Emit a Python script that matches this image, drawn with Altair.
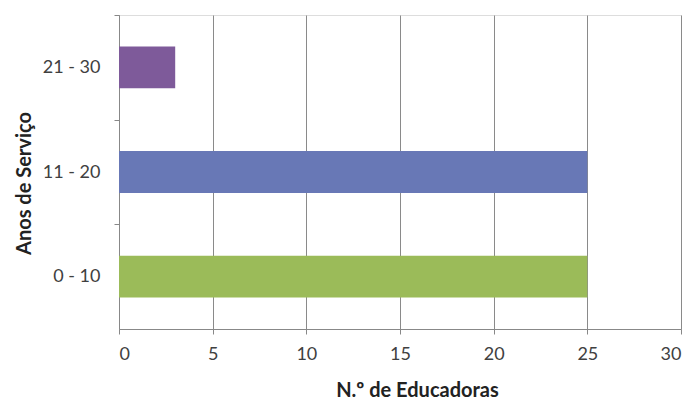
import altair as alt
import pandas as pd

categories = ["21 - 30", "11 - 20", "0 - 10"]
values = [3, 25, 25]
colors = ["#7E5A9A", "#6878B6", "#9BBB59"]

df = pd.DataFrame({"anos": categories, "n": values, "cor": colors})

FONT = "Lato"
STEP = 314 / 3

chart = alt.Chart(df).mark_bar().encode(
    y=alt.Y("anos:N", sort=categories,
            scale=alt.Scale(paddingInner=0.6, paddingOuter=0.3),
            axis=alt.Axis(title="Anos de Serviço", tickOffset=-STEP / 2,
                          labelOffset=STEP / 2,
                          labelFontSize=18, labelColor="#404040", labelFont=FONT,
                          labelPadding=14, tickSize=5, tickColor="#888888",
                          domainColor="#888888", grid=False,
                          titleFont=FONT, titleFontSize=20, titleFontWeight="bold",
                          titleColor="#222222", titlePadding=8,
                          titleY=168, titleAlign="center")),
    x=alt.X("n:Q", scale=alt.Scale(domain=[0, 30], nice=False),
            axis=alt.Axis(title="N.º de Educadoras", values=[0, 5, 10, 15, 20, 25, 30],
                          labelFontSize=18, labelColor="#404040", labelFont=FONT,
                          labelPadding=11, tickSize=5, tickColor="#888888",
                          domainColor="#888888", grid=True, gridColor="#8a8a8a",
                          gridOpacity=1, titleFont=FONT, titleFontSize=20,
                          titleFontWeight="bold", titleColor="#222222", titlePadding=17,
                          titleX=298, titleAlign="center")),
    color=alt.Color("cor:N", scale=None, legend=None),
).properties(
    width=562, height=314,
    autosize=alt.AutoSizeParams(type="none"),
    padding={"left": 119, "top": 15, "right": 12, "bottom": 81},
).configure_view(stroke=None).configure(background="white")

chart.save("out.html", embed_options={"renderer": "svg", "actions": False})
